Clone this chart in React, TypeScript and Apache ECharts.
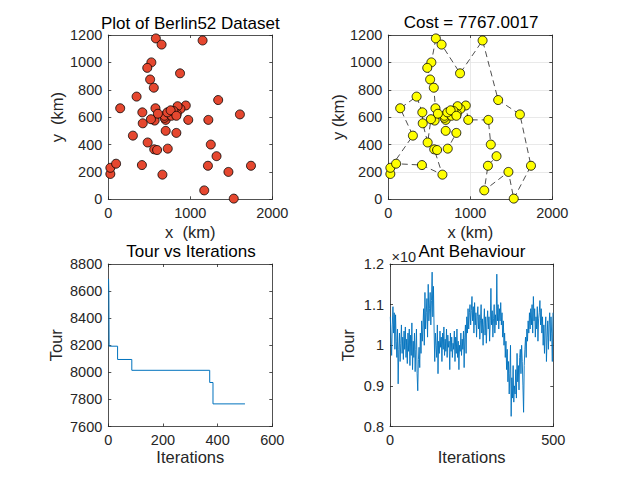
import React, { useEffect, useRef } from "react";
import * as echarts from "echarts";

// Berlin52 city coordinates (km)
const berlinX = [565,25,345,945,845,880,25,525,580,650,1605,1220,1465,1530,845,725,145,415,510,560,300,520,480,835,975,1215,1320,1250,660,410,420,575,1150,700,685,685,770,795,720,760,475,95,875,700,555,830,1170,830,605,595,1340,1740];
const berlinY = [575,185,750,685,655,660,230,1000,1175,1130,620,580,200,5,680,370,665,635,875,365,465,585,415,625,580,245,315,400,180,250,555,665,1160,580,595,610,610,645,635,650,960,260,920,500,815,485,65,610,625,360,725,245];

// Best tour found (1-based city numbers)
const tourOrder = [1,49,32,45,19,41,8,9,10,43,33,51,11,52,14,13,47,26,27,28,12,25,4,6,15,5,24,48,38,37,40,39,36,35,34,44,46,16,50,20,29,30,42,2,7,21,17,3,18,31,23,22,1];
const tourCost = "7767.0017";

// Best tour vs iterations: breakpoints (iteration, length)
const bestIter = [1, 2, 3, 34, 86, 371, 383, 500];
const bestTour = [8690, 8580, 8193, 8095, 8015, 7925, 7767, 7767];

// Ant behaviour: tour length every 2 iterations (1,3,5,...,499)
const antTour = [
  10700,10200,9750,10500,10950,10300,10800,9900,10750,10100,
  9700,10400,9050,9900,10300,9600,10050,10500,9800,10200,
  9650,10350,9900,10450,9700,10150,9550,10300,9850,10400,
  9500,10250,9750,10550,9400,10100,9700,10300,9350,9900,
  10400,9300,8880,9650,9950,9450,10300,9800,10600,10100,
  10500,10900,10000,11300,10400,10800,11150,10200,11500,10600,
  10900,11300,10500,11100,11800,10700,11450,10400,9600,10300,
  10000,9700,10500,9300,10100,9800,10350,9950,10200,9600,
  10300,9900,10450,9750,10150,9850,10400,9700,10250,9950,
  10100,9400,10300,9850,10200,9700,10050,9900,10350,9600,
  10200,9800,10400,9700,10100,9400,10000,9850,10300,9750,
  10150,9900,10350,9450,10200,10500,9800,10700,10300,10900,
  10400,10800,11000,10500,10850,11200,10600,10950,10300,11050,
  10500,10800,10200,10700,10950,10400,10750,10150,10600,11000,
  10300,10650,10000,10500,10900,10250,10700,10050,10550,10850,
  10400,10700,10100,10600,11400,10500,10850,10200,10650,11000,
  10300,10750,10500,11750,10600,11000,10400,10900,10600,11050,
  10500,10800,10200,10600,10000,10300,9700,10100,9400,9900,
  9100,9600,8800,9300,10000,8250,9200,8700,9500,8600,
  9000,8800,9400,8700,9800,9100,9500,8900,9700,9900,
  9300,10000,9600,9000,8350,9500,9900,10200,9700,10400,
  10100,10600,10300,10800,10400,10900,10500,11000,10300,11200,
  10600,10900,10200,10700,10400,10950,10100,10650,10800,11100,
  10500,10900,10300,10700,10000,10500,9800,10400,10700,9600,
  10200,10600,9900,10500,10800,10100,10700,10300,9600,10800,
];

const FONT = "'Liberation Sans', Arial, Helvetica, sans-serif";
const AX = "#262626";

const grids = [
  { left: 108.3, top: 35, width: 164, height: 164.3 },
  { left: 388.3, top: 35, width: 164, height: 164.3 },
  { left: 108.3, top: 264, width: 164, height: 162.5 },
  { left: 390, top: 264, width: 163.3, height: 162.5 },
];

const plain = (v: number) => String(v);

function lineStyle() {
  return { color: AX, width: 0.8 };
}

function xPair(gi: number, min: number, max: number, interval: number, name: string, nameGap: number, split: boolean) {
  return [
    {
      type: "value", gridIndex: gi, min, max, interval, position: "bottom",
      name, nameLocation: "middle", nameGap,
      nameTextStyle: { fontFamily: FONT, fontSize: 16.5, color: AX },
      axisLine: { show: true, onZero: false, lineStyle: lineStyle() },
      axisTick: { show: true, inside: true, length: 3, lineStyle: lineStyle() },
      axisLabel: { fontFamily: FONT, fontSize: 14.5, color: AX, margin: 6, formatter: plain },
      splitLine: { show: split, lineStyle: { color: "#e3e3e3", width: 0.8 } },
    },
    {
      type: "value", gridIndex: gi, min, max, interval, position: "top",
      axisLine: { show: true, onZero: false, lineStyle: lineStyle() },
      axisTick: { show: true, inside: true, length: 3, lineStyle: lineStyle() },
      axisLabel: { show: false },
      splitLine: { show: false },
    },
  ];
}

function yPair(gi: number, min: number, max: number, interval: number, name: string, nameGap: number, split: boolean, fmt: (v: number) => string = plain) {
  return [
    {
      type: "value", gridIndex: gi, min, max, interval, position: "left",
      name, nameLocation: "middle", nameGap,
      nameTextStyle: { fontFamily: FONT, fontSize: 16.5, color: AX },
      axisLine: { show: true, onZero: false, lineStyle: lineStyle() },
      axisTick: { show: true, inside: true, length: 3, lineStyle: lineStyle() },
      axisLabel: { fontFamily: FONT, fontSize: 14.5, color: AX, margin: 6, formatter: fmt },
      splitLine: { show: split, lineStyle: { color: "#e3e3e3", width: 0.8 } },
    },
    {
      type: "value", gridIndex: gi, min, max, interval, position: "right",
      axisLine: { show: true, onZero: false, lineStyle: lineStyle() },
      axisTick: { show: true, inside: true, length: 3, lineStyle: lineStyle() },
      axisLabel: { show: false },
      splitLine: { show: false },
    },
  ];
}

export default function App() {
  const ref = useRef<HTMLDivElement>(null);
  useEffect(() => {
    if (!ref.current) return;
    const chart = echarts.init(ref.current, null, { renderer: "svg" });
    const cities = berlinX.map((x, i) => [x, berlinY[i]]);
    const tourPts = tourOrder.map((c) => [berlinX[c - 1], berlinY[c - 1]]);
    const bestPts = bestIter.map((it, i) => [it, bestTour[i]]);
    const antPts = antTour.map((v, i) => [i * 2 + 1, v]);

    const titleText = (text: string, x: number, y: number) => ({
      type: "text", x, y, z: 100,
      style: { text, fontFamily: FONT, fontSize: 17, fill: "#000", align: "center", verticalAlign: "middle" },
    });

    chart.setOption({
      animation: false,
      backgroundColor: "#fff",
      grid: grids.map((g) => ({ ...g, show: false, containLabel: false })),
      xAxis: [
        ...xPair(0, 0, 2000, 1000, "x  (km)", 24, false),
        ...xPair(1, 0, 2000, 1000, "x (km)", 24, true),
        ...xPair(2, 0, 600, 200, "Iterations", 21, false),
        ...xPair(3, 0, 500, 500, "Iterations", 21, false),
      ],
      yAxis: [
        ...yPair(0, 0, 1200, 200, "y  (km)", 43, false),
        ...yPair(1, 0, 1200, 200, "y (km)", 42, true),
        ...yPair(2, 7600, 8800, 200, "Tour", 44, false),
        ...yPair(3, 8000, 12000, 1000, "Tour", 34, false, (v: number) => String(v / 10000)),
      ],
      graphic: [
        titleText("Plot of Berlin52 Dataset", 190.3, 23),
        titleText("Cost = " + tourCost, 471, 22.5),
        titleText("Tour vs Iterations", 191, 251.5),
        titleText("Ant Behaviour", 472, 251.5),
        {
          type: "text", x: 391.5, y: 257, z: 99,
          style: { text: "×10", fontFamily: FONT, fontSize: 14.5, fill: AX, align: "left", verticalAlign: "middle" },
        },
      ],
      series: [
        {
          type: "scatter", xAxisIndex: 0, yAxisIndex: 0, data: cities,
          symbol: "circle", symbolSize: 9,
          itemStyle: { color: "#e5472f", borderColor: "#000", borderWidth: 0.8, opacity: 1 },
        },
        {
          type: "line", xAxisIndex: 2, yAxisIndex: 2, data: tourPts,
          symbol: "none", z: 1,
          lineStyle: { color: "#222", width: 0.8, type: [6, 4] },
        },
        {
          type: "scatter", xAxisIndex: 2, yAxisIndex: 2, data: cities,
          symbol: "circle", symbolSize: 9, z: 3,
          itemStyle: { color: "#ffff00", borderColor: "#000", borderWidth: 0.8, opacity: 1 },
        },
        {
          type: "line", xAxisIndex: 4, yAxisIndex: 4, data: bestPts, step: "end",
          symbol: "none",
          lineStyle: { color: "#0072bd", width: 1 },
        },
        {
          type: "line", xAxisIndex: 6, yAxisIndex: 6, data: antPts,
          symbol: "none",
          lineStyle: { color: "#0072bd", width: 0.9 },
        },
      ],
    });
    return () => chart.dispose();
  }, []);
  return (
    <div
      ref={ref}
      style={{ position: "fixed", left: 0, top: 0, width: 640, height: 480, background: "#fff" }}
    />
  );
}
